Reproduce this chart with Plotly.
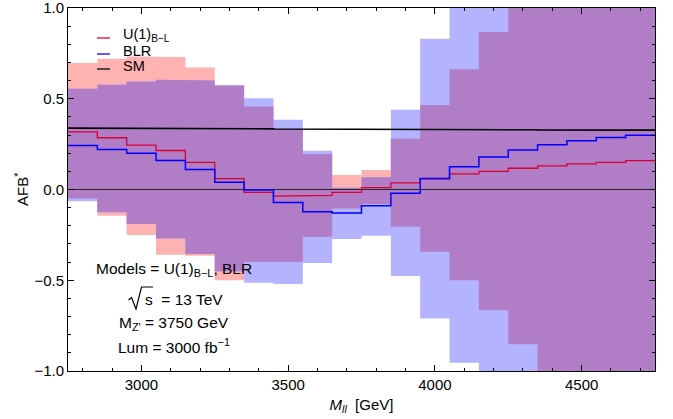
import plotly.graph_objects as go

# ---------------- data ----------------
bin_edges = [2750, 2850, 2950, 3050, 3150, 3250, 3350, 3450, 3550, 3650, 3750,
             3850, 3950, 4050, 4150, 4250, 4350, 4450, 4550, 4650, 4750]

u1_central = [0.317, 0.285, 0.245, 0.215, 0.15, 0.06, -0.016, -0.036, -0.032, -0.016,
              0.01, 0.037, 0.058, 0.086, 0.10, 0.117, 0.13, 0.141, 0.15, 0.159]
blr_central = [0.242, 0.22, 0.20, 0.16, 0.11, 0.04, -0.003, -0.071, -0.122, -0.13,
               -0.089, -0.021, 0.06, 0.126, 0.179, 0.218, 0.247, 0.268, 0.286, 0.299]
sm_central = [0.338, 0.337, 0.337, 0.336, 0.335, 0.335, 0.334, 0.333, 0.333, 0.332,
              0.331, 0.331, 0.330, 0.330, 0.329, 0.329, 0.328, 0.328, 0.327, 0.327]

u1_upper = [0.697, 0.72, 0.733, 0.73, 0.672, 0.575, 0.457, 0.33, 0.196, 0.08,
            0.108, 0.28, 0.466, 0.663, 0.868, 1.1, 1.3, 1.4, 1.5, 1.6]
u1_lower = [-0.05, -0.145, -0.25, -0.36, -0.365, -0.50, -0.40, -0.40, -0.26, -0.104,
            -0.08, -0.205, -0.343, -0.5, -0.665, -0.853, -1.1, -1.2, -1.3, -1.4]
blr_upper = [0.555, 0.577, 0.595, 0.604, 0.60, 0.573, 0.503, 0.384, 0.214, 0.01,
             0.067, 0.439, 0.83, 1.2, 1.35, 1.5, 1.6, 1.7, 1.8, 1.9]
blr_lower = [-0.065, -0.125, -0.19, -0.27, -0.355, -0.45, -0.514, -0.52, -0.405, -0.273,
             -0.255, -0.477, -0.711, -0.954, -1.2, -1.3, -1.4, -1.5, -1.6, -1.7]

x_ticks = [3000, 3500, 4000, 4500]
y_ticks = [-1.0, -0.5, 0.0, 0.5, 1.0]
y_ticklabels = ["\u22121.0", "\u22120.5", "0.0", "0.5", "1.0"]

# colours
PINK = "rgb(255,178,178)"
LBLUE = "rgb(179,179,255)"
PURPLE = "rgb(177,125,199)"
RED_LINE = "rgb(215,0,50)"
BLUE_LINE = "rgb(0,0,255)"
FONT = "Liberation Sans, Arial, sans-serif"


def steps(edges, vals):
    xs, ys = [], []
    for i, v in enumerate(vals):
        xs += [edges[i], edges[i + 1]]
        ys += [v, v]
    return xs, ys


def band(edges, hi, lo):
    xu, yu = steps(edges, hi)
    xl, yl = steps(edges, lo)
    return xu + xl[::-1], yu + yl[::-1]


overlap_hi = [min(a, b) for a, b in zip(u1_upper, blr_upper)]
overlap_lo = [max(a, b) for a, b in zip(u1_lower, blr_lower)]
overlap_lo = [min(l, h) for l, h in zip(overlap_lo, overlap_hi)]

fig = go.Figure()
for hi, lo, col in [(u1_upper, u1_lower, PINK), (blr_upper, blr_lower, LBLUE),
                    (overlap_hi, overlap_lo, PURPLE)]:
    bx, by = band(bin_edges, hi, lo)
    fig.add_trace(go.Scatter(x=bx, y=by, fill="toself", fillcolor=col, mode="lines",
                             line=dict(width=0, color=col), hoverinfo="skip",
                             showlegend=False))

# zero line
fig.add_trace(go.Scatter(x=[bin_edges[0], bin_edges[-1]], y=[0, 0], mode="lines",
                         line=dict(color="rgb(40,40,40)", width=1), showlegend=False))

sx, sy = steps(bin_edges, sm_central)
fig.add_trace(go.Scatter(x=sx, y=sy, mode="lines", line=dict(color="black", width=1.6),
                         showlegend=False))
rx, ry = steps(bin_edges, u1_central)
fig.add_trace(go.Scatter(x=rx, y=ry, mode="lines", line=dict(color=RED_LINE, width=1.3),
                         showlegend=False))
bx_, by_ = steps(bin_edges, blr_central)
fig.add_trace(go.Scatter(x=bx_, y=by_, mode="lines", line=dict(color=BLUE_LINE, width=1.5),
                         showlegend=False))

# ---------------- layout geometry ----------------
W, H = 673, 419
ML, MR, MT, MB = 68, 18, 8, 48
PW, PH = W - ML - MR, H - MT - MB


def px(xp):
    return (xp - ML) / PW


def py(yp):
    return (H - MB - yp) / PH


annotations = []
shapes = []

# legend
legend_items = [("U(1)<sub>B\u2212L</sub>", "rgb(230,0,40)", 38),
                ("BLR", BLUE_LINE, 54),
                ("SM", "black", 69)]
for label, col, yy in legend_items:
    shapes.append(dict(type="line", xref="paper", yref="paper", x0=px(97), x1=px(110),
                       y0=py(yy), y1=py(yy), line=dict(color=col, width=1.3)))
    annotations.append(dict(text=label, xref="paper", yref="paper", x=px(121), y=py(yy - 3),
                            xanchor="left", yanchor="middle", showarrow=False,
                            font=dict(family=FONT, size=14.5, color="black")))

info = [("Models = U(1)<sub>B\u2212L</sub>, BLR", 269, 174),
        ("s  = 13 TeV", 299, 184),
        ("M<sub>Z'</sub> = 3750 GeV", 323, 174),
        ("Lum = 3000 fb<sup>\u22121</sup>", 346, 174)]
for txt, yy, xx in info:
    annotations.append(dict(text=txt, xref="paper", yref="paper", x=px(xx), y=py(yy),
                            xanchor="center", yanchor="middle", showarrow=False,
                            font=dict(family=FONT, size=15.5, color="black")))

# y-axis title placed explicitly
annotations.append(dict(text="AFB<sup>*</sup>", xref="paper", yref="paper",
                        x=px(22), y=py(190), xanchor="center", yanchor="middle",
                        textangle=-90, showarrow=False,
                        font=dict(family=FONT, size=15, color="black")))

# square-root sign drawn as a path (radical + overline)
shapes.append(dict(type="path", xref="paper", yref="paper",
                   path=(f"M {px(128.5)} {py(300)} L {px(131.5)} {py(297.5)} "
                         f"L {px(136)} {py(309)} L {px(141.5)} {py(287)} "
                         f"L {px(153)} {py(287)}"),
                   line=dict(color="black", width=1.2)))

fig.update_layout(
    width=W, height=H,
    margin=dict(l=ML, r=MR, t=MT, b=MB, autoexpand=False),
    paper_bgcolor="white", plot_bgcolor="white",
    font=dict(family=FONT, size=15, color="black"),
    showlegend=False,
    annotations=annotations,
    shapes=shapes,
    xaxis=dict(range=[bin_edges[0], bin_edges[-1]], tickvals=x_ticks, automargin=False,
               ticks="inside", ticklen=6, tickcolor="black", showline=True,
               linecolor="black", linewidth=1, mirror="allticks", showgrid=False,
               zeroline=False, tickfont=dict(size=15), ticklabeloverflow="allow",
               minor=dict(dtick=100, ticks="inside", ticklen=3, tickcolor="black"),
               title=dict(text="<i>M<sub>ll</sub></i>  [GeV]", standoff=7,
                          font=dict(size=15))),
    yaxis=dict(range=[-1, 1], tickvals=y_ticks, ticktext=y_ticklabels, automargin=False,
               ticks="inside", ticklen=6, tickcolor="black", showline=True,
               linecolor="black", linewidth=1, mirror="allticks", showgrid=False,
               zeroline=False, tickfont=dict(size=15), ticklabeloverflow="allow",
               minor=dict(dtick=0.1, ticks="inside", ticklen=3, tickcolor="black")),
)

fig.write_html("out.html")
